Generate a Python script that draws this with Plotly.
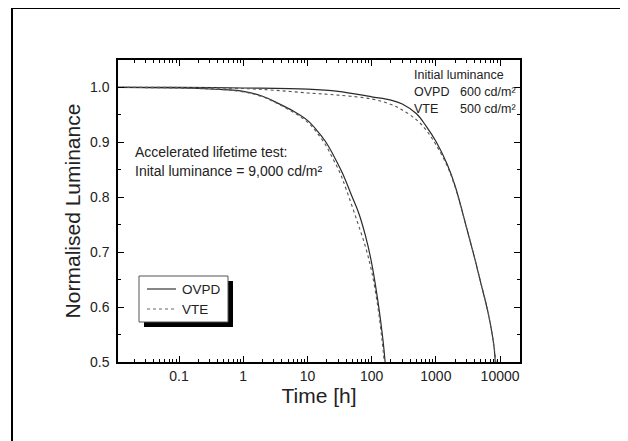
import plotly.graph_objects as go

# Accelerated lifetime test (initial luminance 9,000 cd/m2)
acc_ovpd_t = [0.01, 0.1, 0.5, 1, 2, 3.5, 6, 10, 14, 19, 25, 35, 50, 63, 80, 100, 129, 150, 162]
acc_ovpd_L = [1.0, 0.999, 0.996, 0.993, 0.984, 0.971, 0.957, 0.940, 0.922, 0.902, 0.878, 0.844, 0.80, 0.771, 0.73, 0.68, 0.60, 0.54, 0.50]
acc_vte_t = [0.01, 0.1, 0.5, 1, 2, 3.5, 6, 10, 14, 19, 25, 32, 40, 60, 80, 100, 125, 145, 157]
acc_vte_L = [1.0, 0.999, 0.996, 0.992, 0.983, 0.970, 0.955, 0.937, 0.918, 0.896, 0.870, 0.845, 0.815, 0.755, 0.71, 0.665, 0.60, 0.54, 0.50]

# Normal operation (OVPD 600 cd/m2, VTE 500 cd/m2)
op_ovpd_t = [0.01, 0.1, 1, 10, 30, 100, 200, 300, 500, 700, 1000, 1500, 2000, 3000, 4000, 5000, 6500, 8000, 8400]
op_ovpd_L = [1.0, 1.0, 0.999, 0.997, 0.993, 0.983, 0.977, 0.970, 0.952, 0.930, 0.902, 0.86, 0.82, 0.745, 0.69, 0.644, 0.59, 0.53, 0.50]
op_vte_t = [0.01, 0.1, 1, 3, 10, 30, 100, 200, 300, 500, 700, 1000, 1500, 2000, 3000, 4000, 5000, 6500, 8000, 8600]
op_vte_L = [1.0, 1.0, 0.998, 0.995, 0.990, 0.986, 0.979, 0.969, 0.959, 0.941, 0.923, 0.896, 0.857, 0.818, 0.745, 0.69, 0.645, 0.59, 0.53, 0.50]

series_names = ["OVPD", "VTE"]
x_tickvals = [0.1, 1, 10, 100, 1000, 10000]
x_ticktext = ["0.1", "1", "10", "100", "1000", "10000"]
y_tickvals = [0.5, 0.6, 0.7, 0.8, 0.9, 1.0]

FONT = "Liberation Sans, Arial, sans-serif"
solid = dict(color="#2a2a2a", width=1.2, dash="solid")
dotted = dict(color="#555555", width=1.1, dash="dot")

fig = go.Figure()
fig.add_trace(go.Scatter(x=acc_ovpd_t, y=acc_ovpd_L, mode="lines", line=solid, line_shape="spline",
                         name=series_names[0], showlegend=False))
fig.add_trace(go.Scatter(x=acc_vte_t, y=acc_vte_L, mode="lines", line=dotted, line_shape="spline",
                         name=series_names[1], showlegend=False))
fig.add_trace(go.Scatter(x=op_ovpd_t, y=op_ovpd_L, mode="lines", line=solid, line_shape="spline",
                         name=series_names[0], showlegend=False))
fig.add_trace(go.Scatter(x=op_vte_t, y=op_vte_L, mode="lines", line=dotted, line_shape="spline",
                         name=series_names[1], showlegend=False))

# page body has an 8px margin: figure origin sits at window (8, 8)
OFF = 8
W, H = 628 - OFF, 441 - OFF
PL, PR, PT, PB = 118, 520, 60, 362  # plot area in window pixels
L, R, T, B = PL - OFF, W - (PR - OFF), PT - OFF, H - (PB - OFF)
pw, ph = W - L - R, H - T - B

def px(x):
    return (x - PL) / pw

def py(y):
    return (PB - y) / ph

def pline(x0, x1, y, line):
    return dict(type="line", xref="paper", yref="paper", x0=px(x0), x1=px(x1), y0=py(y), y1=py(y),
                line=line, layer="above")

shapes = [
    # outer frame (cropped at right/bottom)
    dict(type="rect", xref="paper", yref="paper", x0=px(12), x1=px(660), y0=py(470), y1=py(8),
         line=dict(color="black", width=2), fillcolor="rgba(0,0,0,0)", layer="above"),
    # legend shadow and box
    dict(type="rect", xref="paper", yref="paper", x0=px(144), x1=px(233), y0=py(327), y1=py(281),
         line=dict(color="black", width=0), fillcolor="black", layer="above"),
    dict(type="rect", xref="paper", yref="paper", x0=px(139), x1=px(228), y0=py(322), y1=py(276),
         line=dict(color="#555", width=1), fillcolor="white", layer="above"),
    pline(147, 176, 289, dict(color="#444", width=1.3, dash="solid")),
    pline(147, 176, 309, dict(color="#666", width=1.1, dash="dot")),
]

tf = dict(size=12.5, color="#222", family=FONT)
tf2 = dict(size=14, color="#222", family=FONT)
tf3 = dict(size=13.5, color="#222", family=FONT)
annotations = [
    dict(text="Initial luminance", x=px(412), y=py(75), font=tf),
    dict(text="OVPD", x=px(412), y=py(92), font=tf),
    dict(text="600 cd/m²", x=px(458), y=py(92), font=tf),
    dict(text="VTE", x=px(412), y=py(109), font=tf),
    dict(text="500 cd/m²", x=px(458), y=py(109), font=tf),
    dict(text="Accelerated lifetime test:", x=px(133), y=py(152), font=tf2),
    dict(text="Inital luminance = 9,000 cd/m²", x=px(133), y=py(171), font=tf2),
    dict(text=series_names[0], x=px(180), y=py(289), font=tf3),
    dict(text=series_names[1], x=px(180), y=py(309), font=tf3),
]
for a in annotations:
    a.update(xref="paper", yref="paper", xanchor="left", yanchor="middle", showarrow=False)

axis_common = dict(showline=True, linecolor="black", linewidth=1.5, mirror="ticks",
                   ticks="inside", tickcolor="black", tickwidth=1, showgrid=False, zeroline=False,
                   tickfont=dict(size=14, color="#222", family=FONT))

fig.update_layout(
    width=W, height=H,
    margin=dict(l=L, r=R, t=T, b=B),
    paper_bgcolor="white", plot_bgcolor="white",
    font=dict(family=FONT, color="#222"),
    shapes=shapes, annotations=annotations,
    showlegend=False,
    xaxis=dict(type="log", range=[-1.95, 4.31], tickvals=x_tickvals, ticktext=x_ticktext, ticklen=6,
               minor=dict(ticks="inside", ticklen=3, dtick="D1", tickcolor="black", showgrid=False),
               title=dict(text="Time [h]", font=dict(size=21, color="#222", family=FONT), standoff=4),
               **axis_common),
    yaxis=dict(range=[0.5, 1.05], tickvals=y_tickvals, tickformat=".1f", ticklen=6,
               ticklabelstandoff=4,
               minor=dict(ticks="inside", ticklen=3, dtick=0.05, tickcolor="black", showgrid=False),
               title=dict(text="Normalised Luminance", font=dict(size=21, color="#222", family=FONT), standoff=4),
               **axis_common),
)

fig.write_html("out.html")
